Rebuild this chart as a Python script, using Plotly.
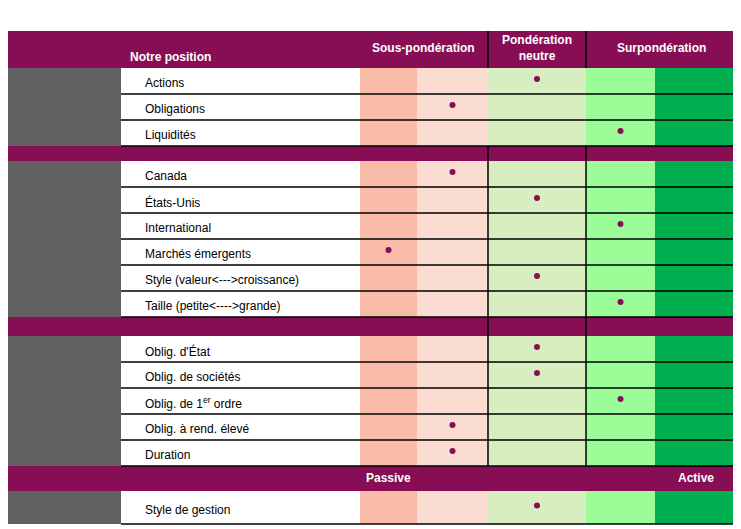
import plotly.graph_objects as go

# data
groups = ["Global", "Actions", "Revenu fixe", ""]
rows = [
    ["Actions", "Obligations", "Liquidités"],
    ["Canada", "États-Unis", "International", "Marchés émergents",
     "Style (valeur<--->croissance)", "Taille (petite<---->grande)"],
    ["Oblig. d'État", "Oblig. de sociétés", "Oblig. de 1<sup>er</sup> ordre",
     "Oblig. à rend. élevé", "Duration"],
    ["Style de gestion"],
]
# position: 1 = strong underweight ... 5 = strong overweight
positions = [
    [3, 2, 4],
    [2, 3, 4, 1, 3, 4],
    [3, 3, 4, 2, 2],
    [3],
]
headers = ["Sous-pondération", "Pondération<br>neutre", "Surpondération"]
band_labels = ["Passive", "Active"]

# layout (pixels); page body has an 8px margin, so shift the ranges
W, H = 741, 529
OFF = 8
col_edges = [360, 417, 488, 586, 655, 737]
col_colors = ["#F8BBA8", "#FADCD2", "#D8EDC0", "#9CFC98", "#00B050"]
purple = "#870E55"
gray = "#616161"
row_h = 26
group_top = [68, 161, 336, 491]
sep_bands = [(31, 68), (146, 161), (317, 336), (466, 491)]

shapes = []
def rect(x0, y0, x1, y1, color):
    shapes.append(dict(type="rect", x0=x0, y0=y0, x1=x1, y1=y1, fillcolor=color,
                       line_width=0, layer="below"))
def line(x0, y0, x1, y1, w=1.5):
    shapes.append(dict(type="line", x0=x0, y0=y0, x1=x1, y1=y1,
                       line=dict(color="black", width=w)))

annotations = []
def text(x, y, s, size=12, color="black", bold=False, anchor="left",
         family="Liberation Sans Narrow, Arial Narrow, Liberation Sans"):
    annotations.append(dict(x=x, y=y, text=f"<b>{s}</b>" if bold else s, showarrow=False,
                            xanchor=anchor, yanchor="middle", align="center",
                            font=dict(size=size, color=color, family=family)))

dot_x, dot_y = [], []
for g, (name, labels, pos) in enumerate(zip(groups, rows, positions)):
    top = group_top[g]
    h = 33 if g == 3 else row_h
    bottom = top + h * len(labels)
    rect(2, top, 121, bottom, gray)
    if name:
        text(3, top + 15, name, color="white")
    for i in range(5):
        rect(col_edges[i], top, col_edges[i + 1], bottom, col_colors[i])
    for r, (lab, p) in enumerate(zip(labels, pos)):
        y0 = top + r * h
        text(143, y0 + h / 2 + 2, lab)
        line(121, y0 + h, 737, y0 + h)
        dot_x.append((col_edges[p - 1] + col_edges[p]) / 2)
        dot_y.append(y0 + h / 2 - 2)
    if g in (1, 2):
        line(488, top, 488, bottom)
        line(586, top, 586, bottom)

for y0, y1 in sep_bands:
    rect(2, y0, 737, y1, purple)
for y0, y1 in sep_bands[:3]:
    line(488, y0, 488, y1)
    line(586, y0, 586, y1)

text(128, 57, "Notre position", size=12, color="white", bold=True)
text(423, 48, headers[0], size=12, color="white", bold=True, anchor="center")
text(537, 48, headers[1], size=12, color="white", bold=True, anchor="center")
text(661, 48, headers[2], size=12, color="white", bold=True, anchor="center")
text(388, 478, band_labels[0], size=12, color="white", bold=True, anchor="center")
text(696, 478, band_labels[1], size=12, color="white", bold=True, anchor="center")
text(2, 14, "Positionnement du portefeuille", size=18, color=purple,
     family="Liberation Serif, Times New Roman, serif")

fig = go.Figure(go.Scatter(x=dot_x, y=dot_y, mode="markers",
                           marker=dict(size=6, color=purple), hoverinfo="skip"))
fig.update_layout(
    width=W, height=H, margin=dict(l=0, r=0, t=0, b=0),
    plot_bgcolor="white", paper_bgcolor="white", showlegend=False,
    shapes=shapes, annotations=annotations,
    xaxis=dict(range=[OFF, W + OFF], visible=False, fixedrange=True),
    yaxis=dict(range=[H + OFF, OFF], visible=False, fixedrange=True),
)
fig.write_html("out.html")
